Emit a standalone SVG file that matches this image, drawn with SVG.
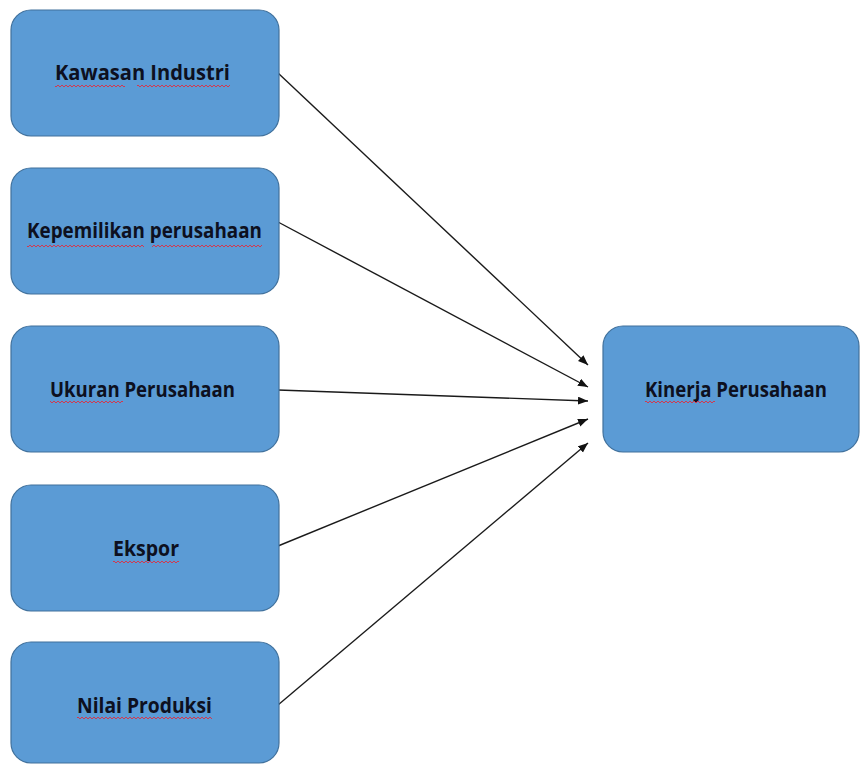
<svg xmlns="http://www.w3.org/2000/svg" width="861" height="765" viewBox="0 0 861 765">
<style>
.box{fill:#5b9bd5;stroke:#41719c;stroke-width:1.2}
.lbl{font-family:"Open Sans","Liberation Sans",sans-serif;font-weight:700;font-size:21px;fill:#0d1020}
.conn{stroke:#1a1a1a;stroke-width:1.4;fill:none;marker-end:url(#ah)}
.sq{fill:url(#squig)}
</style>
<defs>
<marker id="ah" markerUnits="userSpaceOnUse" markerWidth="12" markerHeight="10" refX="10" refY="4" orient="auto">
<path d="M0,0 L10,4 L0,8 Z" fill="#111"/>
</marker>
<pattern id="squig" patternUnits="userSpaceOnUse" width="4" height="4">
<path d="M0,3 L2,1 L4,3" fill="none" stroke="#d2384e" stroke-width="1"/>
</pattern>
</defs>
<rect width="861" height="765" fill="#ffffff"/>
<g id="connectors">
<line class="conn" x1="278" y1="73" x2="588" y2="365"/>
<line class="conn" x1="278" y1="222" x2="588" y2="387"/>
<line class="conn" x1="278" y1="390" x2="588" y2="401"/>
<line class="conn" x1="278" y1="546" x2="588" y2="419"/>
<line class="conn" x1="278" y1="705" x2="588" y2="443"/>
</g>
<g id="kawasan">
<rect class="box" x="11" y="10" width="268" height="126" rx="20"/>
<text class="lbl" x="55" y="80" textLength="175" lengthAdjust="spacingAndGlyphs">Kawasan Industri</text>
<rect class="sq" x="55" y="84" width="70" height="4"/>
<rect class="sq" x="137" y="84" width="93" height="4"/>
</g>
<g id="kepemilikan">
<rect class="box" x="11" y="168" width="268" height="126" rx="20"/>
<text class="lbl" x="27" y="238" textLength="235" lengthAdjust="spacingAndGlyphs">Kepemilikan perusahaan</text>
<rect class="sq" x="27" y="243" width="117" height="4"/>
<rect class="sq" x="152" y="243" width="110" height="4"/>
</g>
<g id="ukuran">
<rect class="box" x="11" y="326" width="268" height="126" rx="20"/>
<text class="lbl" x="50" y="397" textLength="185" lengthAdjust="spacingAndGlyphs">Ukuran Perusahaan</text>
<rect class="sq" x="50" y="400" width="73" height="4"/>
</g>
<g id="ekspor">
<rect class="box" x="11" y="485" width="268" height="126" rx="20"/>
<text class="lbl" x="113" y="556" textLength="66" lengthAdjust="spacingAndGlyphs">Ekspor</text>
<rect class="sq" x="113" y="559" width="66" height="4"/>
</g>
<g id="nilai">
<rect class="box" x="11" y="642" width="268" height="121" rx="20"/>
<text class="lbl" x="77" y="713" textLength="135" lengthAdjust="spacingAndGlyphs">Nilai Produksi</text>
<rect class="sq" x="77" y="716" width="135" height="4"/>
</g>
<g id="kinerja">
<rect class="box" x="603" y="326" width="256" height="126" rx="20"/>
<text class="lbl" x="645" y="397" textLength="182" lengthAdjust="spacingAndGlyphs">Kinerja Perusahaan</text>
<rect class="sq" x="645" y="400" width="70" height="4"/>
</g>
</svg>
